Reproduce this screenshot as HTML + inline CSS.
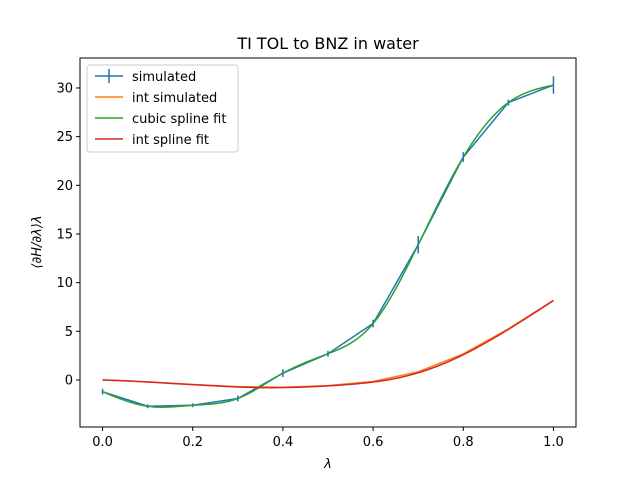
<!DOCTYPE html>
<html><head><meta charset="utf-8"><style>
html,body{margin:0;padding:0;background:#fff;}
svg{display:block;font-family:"DejaVu Sans","Liberation Sans",sans-serif;}
</style></head><body>
<svg id="chart" width="640" height="480" xmlns="http://www.w3.org/2000/svg"></svg>
<script>
const lambdas=[0,0.1,0.2,0.3,0.4,0.5,0.6,0.7,0.8,0.9,1.0];
const simulated=[-1.2,-2.7,-2.6,-1.9,0.7,2.7,5.8,13.9,22.9,28.5,30.3];
const errors=[0.3,0.2,0.2,0.3,0.4,0.3,0.4,0.9,0.5,0.3,0.9];
const xTicks=[0,0.2,0.4,0.6,0.8,1.0];
const xTickLabels=["0.0","0.2","0.4","0.6","0.8","1.0"];
const yTicks=[0,5,10,15,20,25,30];
const yTickLabels=["0","5","10","15","20","25","30"];

const L=80,R=576,T=58,B=427;
const xMin=-0.05,xMax=1.05,yMin=-4.83,yMax=33.08;
const xs=v=>L+(v-xMin)/(xMax-xMin)*(R-L);
const ys=v=>B-(v-yMin)/(yMax-yMin)*(B-T);
const svg=document.getElementById('chart');
const NS="http://www.w3.org/2000/svg";
function mk(tag,attrs,parent){const e=document.createElementNS(NS,tag);for(const k in attrs)e.setAttribute(k,attrs[k]);(parent||svg).appendChild(e);return e;}

function spline(x,y){const n=x.length;const h=[];for(let i=0;i<n-1;i++)h.push(x[i+1]-x[i]);
const a=new Array(n).fill(0),b=new Array(n).fill(0),c=new Array(n).fill(0),d=new Array(n).fill(0);
b[0]=1;b[n-1]=1;
for(let i=1;i<n-1;i++){a[i]=h[i-1];b[i]=2*(h[i-1]+h[i]);c[i]=h[i];d[i]=6*((y[i+1]-y[i])/h[i]-(y[i]-y[i-1])/h[i-1]);}
for(let i=1;i<n;i++){const m=a[i]/b[i-1];b[i]-=m*c[i-1];d[i]-=m*d[i-1];}
const M=new Array(n);M[n-1]=d[n-1]/b[n-1];for(let i=n-2;i>=0;i--)M[i]=(d[i]-c[i]*M[i+1])/b[i];
return t=>{let i=Math.min(n-2,Math.max(0,Math.floor((t-x[0])/h[0])));const hh=h[i],A=(x[i+1]-t)/hh,Bb=(t-x[i])/hh;
return A*y[i]+Bb*y[i+1]+((A*A*A-A)*M[i]+(Bb*Bb*Bb-Bb)*M[i+1])*hh*hh/6;};}
const sp=spline(lambdas,simulated);

mk('rect',{x:L,y:T,width:R-L,height:B-T,fill:'none',stroke:'#000','stroke-width':1,});
xTicks.forEach((v,i)=>{const g=mk('g',{});
mk('line',{x1:xs(v),x2:xs(v),y1:B,y2:B+4,stroke:'#000'},g);
const t=mk('text',{x:xs(v),y:B+19,'font-size':13,'text-anchor':'middle'},g);t.textContent=xTickLabels[i];});
yTicks.forEach((v,i)=>{const g=mk('g',{});
mk('line',{x1:L-4,x2:L,y1:ys(v),y2:ys(v),stroke:'#000'},g);
const t=mk('text',{x:L-7,y:ys(v)+4.5,'font-size':13,'text-anchor':'end'},g);t.textContent=yTickLabels[i];});

function poly(pts,color,name){const p=mk('polyline',{points:pts.map(q=>xs(q[0]).toFixed(2)+','+ys(q[1]).toFixed(2)).join(' '),fill:'none',stroke:color,'stroke-width':1.5});
}

const intSim=[0];for(let i=1;i<lambdas.length;i++)intSim.push(intSim[i-1]+(simulated[i]+simulated[i-1])/2*(lambdas[i]-lambdas[i-1]));
const fine=[],intFine=[];let acc=0,prev=null;
for(let k=0;k<=200;k++){const t=k/200;const v=sp(t);if(prev!==null)acc+=(v+prev[1])/2*(t-prev[0]);fine.push([t,v]);intFine.push([t,acc]);prev=[t,v];}

poly(lambdas.map((v,i)=>[v,simulated[i]]),'#1f77b4','simulated-line');
poly(lambdas.map((v,i)=>[v,intSim[i]]),'#ff7f0e','int-simulated-line');
poly(fine,'#2ca02c','cubic-spline-line');
poly(intFine,'#d62728','int-spline-line');
lambdas.forEach((v,i)=>{const e=mk('line',{x1:xs(v),x2:xs(v),y1:ys(simulated[i]-errors[i]),y2:ys(simulated[i]+errors[i]),stroke:'#1f77b4','stroke-width':1.5});
});

let t=mk('text',{x:328,y:49,'font-size':16,'text-anchor':'middle',});t.textContent='TI TOL to BNZ in water';
t=mk('text',{x:328,y:468,'font-size':13,'text-anchor':'middle','font-style':'italic',});t.textContent='λ';
t=mk('text',{x:0,y:0,'font-size':13,'text-anchor':'middle',transform:'translate(41,242) rotate(-90)','font-style':'italic',});t.textContent='⟨∂H/∂λ⟩λ';

const lg=mk('g',{});
mk('rect',{x:87,y:65,width:151,height:87,rx:3,fill:'#fff','fill-opacity':0.8,stroke:'#ccc'},lg);
const names=['simulated','int simulated','cubic spline fit','int spline fit'];
const cols=['#1f77b4','#ff7f0e','#2ca02c','#d62728'];
names.forEach((n,i)=>{const y=76+i*21;const g=mk('g',{},lg);
mk('line',{x1:95,x2:123,y1:y,y2:y,stroke:cols[i],'stroke-width':1.5},g);
if(i===0)mk('line',{x1:109,x2:109,y1:y-7,y2:y+7,stroke:cols[i],'stroke-width':1.5},g);
const tx=mk('text',{x:132,y:y+5,'font-size':13},g);tx.textContent=n;});
</script>
</body></html>
